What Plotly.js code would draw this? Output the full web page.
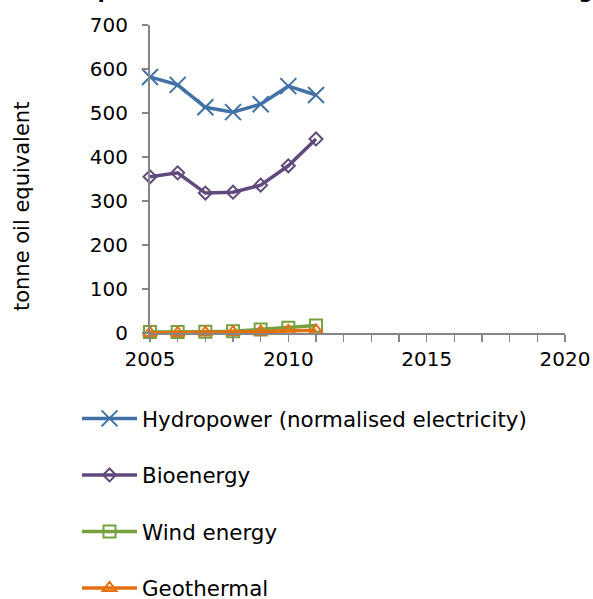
<!DOCTYPE html>
<html>
<head>
<meta charset="utf-8">
<script src="https://cdn.plot.ly/plotly-3.0.1.min.js"></script>
<style>html,body{margin:0;padding:0;background:#fff;}#chart{width:593px;height:599px;}</style>
</head>
<body>
<div id="chart"></div>
<script>
const years = [2005, 2006, 2007, 2008, 2009, 2010, 2011];
const hydropower = [582, 564, 513, 502, 520, 561, 541];
const bioenergy = [355, 364, 318, 320, 336, 380, 441];
const wind = [2, 2, 3, 4, 8, 12, 17];
const geothermal = [0, 0, 1, 2, 3, 5, 6];
const seriesNames = ['Hydropower (normalised electricity)', 'Bioenergy', 'Wind energy', 'Geothermal'];
const titleText = 'Output of renewable sources in the EEA-33 Region';
const yTitle = 'tonne oil equivalent';
const xTickVals = [2005, 2010, 2015, 2020];

const font = 'DejaVu Sans, Verdana, sans-serif';
const colors = ['#4271A6', '#604A7B', '#77A03F', '#E4700F'];
const symbols = ['x-thin-open', 'diamond-open', 'square-open', 'triangle-up-open'];
const sizes = [16, 10, 12, 12];
const data = [hydropower, bioenergy, wind, geothermal].map((vals, i) => ({
  x: years, y: vals, name: seriesNames[i], type: 'scatter', mode: 'lines+markers',
  cliponaxis: false, legendgroup: 'g' + i,
  line: {color: colors[i], width: 3.5},
  marker: {symbol: symbols[i], size: sizes[i], color: colors[i], line: {color: colors[i], width: 2}}
}));

const layout = {
  width: 593, height: 599,
  margin: {l: 150, r: 28, t: 25, b: 266, autoexpand: false},
  paper_bgcolor: '#fff', plot_bgcolor: '#fff',
  font: {family: font, size: 20, color: '#000'},
  showlegend: true,
  legend: {xref: 'container', yref: 'container', x: 77 / 593, y: 1 - 398 / 599, xanchor: 'left', yanchor: 'top',
           traceorder: 'grouped', tracegroupgap: 25.7, itemwidth: 55,
           font: {family: font, size: 21.4, color: '#000'}},
  xaxis: {range: [2005, 2020], tickvals: xTickVals, ticks: 'outside', ticklen: 7, tickwidth: 1.5, tickcolor: '#868686',
          showline: true, linecolor: '#868686', linewidth: 2, showgrid: false, zeroline: false,
          minor: {dtick: 1, ticks: 'outside', ticklen: 7, tickwidth: 1.5, tickcolor: '#868686', showgrid: false},
          tickfont: {family: font, size: 20}},
  yaxis: {range: [0, 700], dtick: 100, ticks: 'outside', ticklen: 6, tickwidth: 1.5, tickcolor: '#868686',
          showline: true, linecolor: '#868686', linewidth: 2, showgrid: false, zeroline: false,
          ticklabelstandoff: 10,
          tickfont: {family: font, size: 20}},
  annotations: [
    {text: yTitle, xref: 'paper', yref: 'paper', x: -0.31, xanchor: 'center', y: 0.41, yanchor: 'middle', textangle: -90, showarrow: false,
     font: {family: font, size: 21}},
    {text: '<b>' + titleText + '</b>', xref: 'paper', yref: 'paper', x: -0.23, xanchor: 'left', y: 1, yanchor: 'bottom', yshift: 20,
     showarrow: false, font: {family: font, size: 20}}
  ]
};
Plotly.newPlot('chart', data, layout, {displayModeBar: false, staticPlot: true});
</script>
</body>
</html>
